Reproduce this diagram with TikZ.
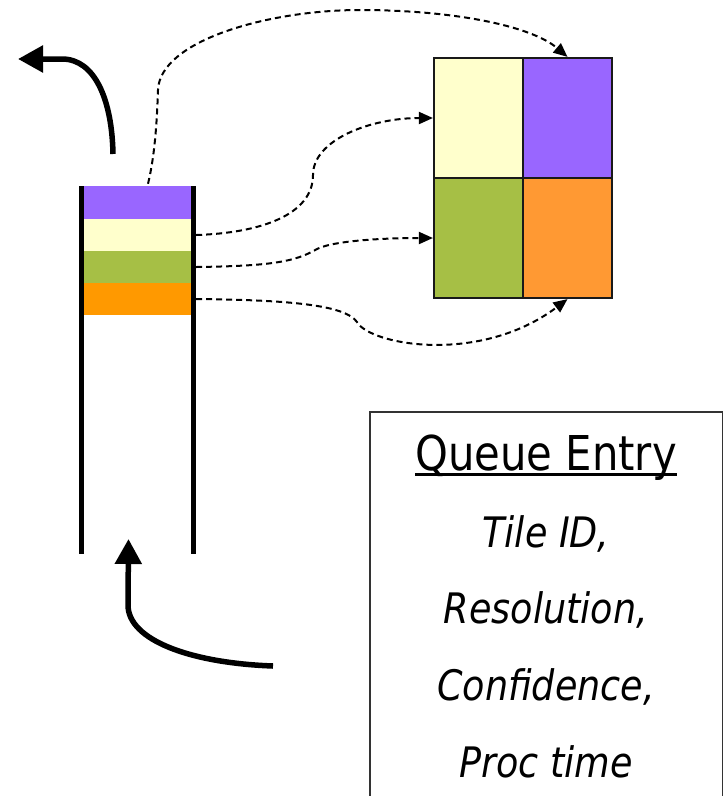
\documentclass[tikz,border=0pt]{standalone}
\usepackage{fontspec}
\setmainfont{DejaVu Sans}[FakeStretch=0.87]
\usetikzlibrary{arrows.meta}
\definecolor{cpurple}{HTML}{9966FF}
\definecolor{cyellow}{HTML}{FFFFCC}
\definecolor{cgreen}{HTML}{A6BF45}
\definecolor{corange}{HTML}{FF9933}
\definecolor{cqorange}{HTML}{FF9900}
\begin{document}
\begin{tikzpicture}[x=1pt,y=-1pt,
  band/.style={rectangle, inner sep=0pt, minimum width=107pt, minimum height=32pt, draw=none},
  cell/.style={rectangle, inner sep=0pt, minimum width=89pt, minimum height=120pt, draw=black!90, line width=2.2pt},
  wall/.style={line width=5.5pt},
  bigarrow/.style={line width=5.5pt, -{Triangle[length=25pt,width=26pt]}},
  dasharrow/.style={line width=2pt, dash pattern=on 6pt off 4pt, -{Triangle[length=14pt,width=12pt]}},
  titletext/.style={inner sep=0pt, anchor=base, font=\fontsize{48}{58}\selectfont},
  itemtext/.style={inner sep=0pt, anchor=base, font=\fontsize{42}{50}\selectfont\itshape}]
\useasboundingbox (0,0) rectangle (723,796);

% queue bands
\node[band, fill=cpurple, minimum height=33pt] (b1) at (137.5,202.5) {};
\node[band, fill=cyellow] (b2) at (137.5,235) {};
\node[band, fill=cgreen] (b3) at (137.5,267) {};
\node[band, fill=cqorange] (b4) at (137.5,299) {};

% queue walls
\coordinate (lt) at (81.5,186);
\coordinate (lb) at (81.5,554);
\coordinate (rt) at (193.5,186);
\coordinate (rb) at (193.5,554);
\draw[wall] (lt) -- (lb);
\draw[wall] (rt) -- (rb);

% tile grid
\node[cell, fill=cyellow] (tl) at (478.5,118) {};
\node[cell, fill=cpurple] (tr) at (567.5,118) {};
\node[cell, fill=cgreen] (bl) at (478.5,238) {};
\node[cell, fill=corange] (br) at (567.5,238) {};

% dashed connectors
\draw[dasharrow] ([xshift=10.5pt,yshift=2pt]b1.north) .. controls (155,155) and (157,120) .. (158,90)
   .. controls (160,40) and (270,10) .. (360,10)
   .. controls (450,10) and (530,25) .. (tr.north);
\draw[dasharrow] ([xshift=5pt]b2.east) .. controls (260,233) and (313,215) .. (313,175)
   .. controls (313,140) and (370,118) .. (tl.west);
\draw[dasharrow] ([xshift=5pt]b3.east) .. controls (270,266) and (295,262) .. (317,249)
   .. controls (335,240) and (390,238) .. (bl.west);
\draw[dasharrow] ([xshift=5pt]b4.east) .. controls (290,300) and (345,305) .. (357,322)
   .. controls (370,345) and (480,365) .. (br.south);

% thick arrows
\coordinate (outS) at (113,154);
\coordinate (outE) at (18,59);
\draw[bigarrow] (outS) .. controls (112,100) and (95,59) .. (62,59) -- (outE);
\coordinate (inS) at (273,666);
\coordinate (inE) at (128.5,539);
\draw[bigarrow] (inS) .. controls (190,663) and (128,640) .. (128,605) -- (inE);

% queue entry box
\node[draw=black!80, line width=1.5pt, rectangle, inner sep=0pt, anchor=north west,
      minimum width=353pt, minimum height=420pt] (box) at (369,411) {};
\node[titletext] (qe) at (546,470) {Queue Entry};
\draw[line width=2.5pt] ([yshift=-4.5pt]qe.base west) -- ([yshift=-4.5pt]qe.base east);
\node[itemtext] (t1) at (546,547) {Tile ID,};
\node[itemtext] (t2) at (546,623) {Resolution,};
\node[itemtext] (t3) at (546,700) {Confidence,};
\node[itemtext] (t4) at (546,777) {Proc time};
\end{tikzpicture}
\end{document}
